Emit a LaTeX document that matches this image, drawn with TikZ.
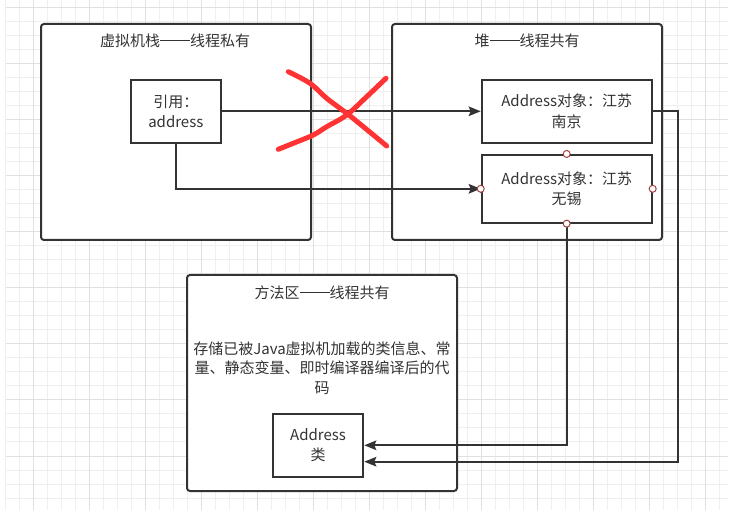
\documentclass[tikz,border=0pt]{standalone}
\usepackage{fontspec}
\setmainfont{Noto Sans CJK SC}
\usetikzlibrary{arrows.meta}
\definecolor{linec}{HTML}{333333}
\definecolor{txtc}{HTML}{333333}
\definecolor{gridminor}{HTML}{EFEFEF}
\definecolor{gridmajor}{HTML}{E0E0E0}
\definecolor{xred}{HTML}{FF3333}
\definecolor{dotc}{HTML}{A0403F}
\newcommand\cjkdash{\rule[0.36em]{2em}{0.07em}}
\begin{document}
\begin{tikzpicture}[x=1pt,y=-1pt,
  every node/.style={text=txtc, font=\fontsize{15}{20.5}\selectfont, inner sep=0pt},
  outerbox/.style={draw=linec, line width=2pt, rounded corners=3pt, fill=white},
  innerbox/.style={draw=linec, line width=2pt, fill=white, align=center},
  conn/.style={draw=linec, line width=2pt, -{Stealth[length=12pt,width=9.5pt,inset=2pt]}},
  portdot/.style={circle, draw=dotc, fill=white, line width=1pt, minimum size=7pt},
  redstroke/.style={draw=xred, line width=5pt, line cap=round, line join=round}]
\useasboundingbox (0,0) rectangle (740,513);
% grid
\foreach \k in {0,...,51} \draw[gridminor, line width=1pt] ({5.7+14*\k},0) -- ({5.7+14*\k},510);
\foreach \k in {0,...,35} \draw[gridminor, line width=1pt] (5.7,{8+14*\k}) -- (728,{8+14*\k});
\foreach \k in {0,...,12} \draw[gridmajor, line width=1pt] ({33.7+56*\k},0) -- ({33.7+56*\k},510);
\foreach \k in {0,...,8} \draw[gridmajor, line width=1pt] (5.7,{8+56*\k}) -- (728,{8+56*\k});

% outer containers
\node[outerbox, minimum width=270pt, minimum height=216pt] (vm) at (176,132) {};
\node[outerbox, minimum width=270pt, minimum height=216pt] (heap) at (527,132) {};
\node[outerbox, minimum width=270pt, minimum height=216pt] (meth) at (322,383) {};

\node (vmt) at (175,41) {虚拟机栈\cjkdash 线程私有};
\node (heapt) at (527,41) {堆\cjkdash 线程共有};
\node (metht) at (322,292.3) {方法区\cjkdash 线程共有};
\node[align=center, font=\fontsize{15}{19.5}\selectfont] (desc) at (322,368) {存储已被Java虚拟机加载的类信息、常\\量、静态变量、即时编译器编译后的代\\码};

% inner boxes
\node[innerbox, minimum width=90pt, minimum height=62.7pt] (ref) at (175.8,111.3) {引用：\\address};
\node[innerbox, minimum width=170pt, minimum height=62.7pt] (objA) at (566.7,111.3) {Address对象：江苏\\南京};
\node[innerbox, minimum width=170pt, minimum height=67.7pt] (objB) at (566.7,188.8) {Address对象：江苏\\无锡};
\node[innerbox, minimum width=90.6pt, minimum height=63.3pt] (cls) at (318,445.3) {Address\\类};

% connectors
\coordinate (bend) at (678.3,461.7);
\draw[conn] (ref.east) -- (objA.west);
\draw[conn] (ref.south) |- (objB.west);
\draw[conn] (objA.east) -| (bend) -- (bend -| cls.east);
\draw[conn] (objB.south) |- (cls.east);

% connection points
\node[portdot] (pt) at (objB.north) {};
\node[portdot] (pl) at (objB.west) {};
\node[portdot] (pr) at (objB.east) {};
\node[portdot] (pb) at (objB.south) {};

% red cross
\draw[redstroke] plot[smooth, tension=0.6] coordinates {(288.3,71.7) (310,83.3) (326.7,98.3) (346.7,113.3) (363.3,126.7) (386.7,146)};
\draw[redstroke] plot[smooth, tension=0.6] coordinates {(278.3,149.3) (293.3,143.3) (313.3,135) (326.7,126.7) (346.7,115) (366.7,96.7) (386,78.3)};
\end{tikzpicture}
\end{document}
